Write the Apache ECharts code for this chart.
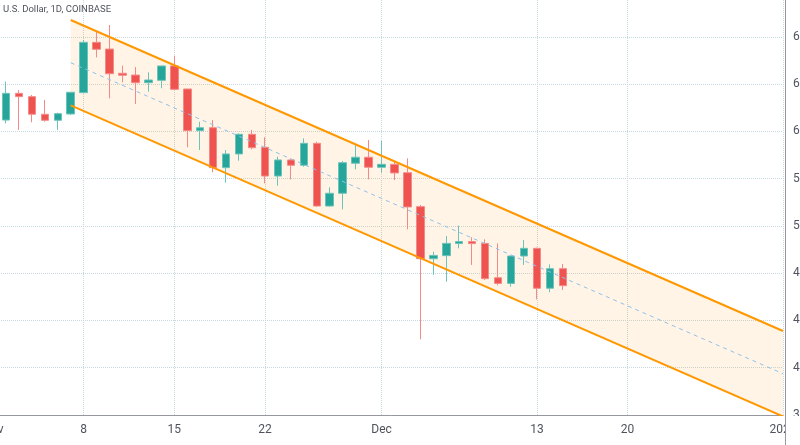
<!DOCTYPE html>
<html>
<head>
<meta charset="utf-8">
<script src="https://cdn.jsdelivr.net/npm/echarts@6/dist/echarts.min.js"></script>
<style>
html,body{margin:0;padding:0;background:#fff;}
#chart{width:800px;height:445px;}
</style>
</head>
<body>
<div id="chart"></div>
<script>
// ---- Data ----
const titleText = 'U.S. Dollar, 1D, COINBASE';

const candleDates = [
  '2021-11-02','2021-11-03','2021-11-04','2021-11-05','2021-11-06','2021-11-07','2021-11-08',
  '2021-11-09','2021-11-10','2021-11-11','2021-11-12','2021-11-13','2021-11-14','2021-11-15',
  '2021-11-16','2021-11-17','2021-11-18','2021-11-19','2021-11-20','2021-11-21','2021-11-22',
  '2021-11-23','2021-11-24','2021-11-25','2021-11-26','2021-11-27','2021-11-28','2021-11-29',
  '2021-11-30','2021-12-01','2021-12-02','2021-12-03','2021-12-04','2021-12-05','2021-12-06',
  '2021-12-07','2021-12-08','2021-12-09','2021-12-10','2021-12-11','2021-12-12','2021-12-13',
  '2021-12-14','2021-12-15'
];
const openValues = [
  60970,63230,62950,61460,60950,61480,63290,
  67550,66980,64930,64780,64130,64330,65550,
  63600,60070,60320,56940,58100,59760,58660,
  56230,57590,57140,59000,53690,54770,57310,
  57820,56970,57220,56510,53640,49230,49490,
  50510,50680,50530,47620,47140,49460,50110,
  46730,48390
];
const closeValues = [
  63230,62950,61460,60950,61510,63320,67550,
  66960,64890,64760,64130,64360,65550,63570,
  60070,60320,56940,58100,59760,58630,56230,
  57590,57140,59000,53690,54770,57360,57820,
  56970,57220,56490,53610,49230,49510,50530,
  50680,50510,47540,47140,49460,50110,46730,
  48390,46950
];
const lowValues = [
  60690,60130,60780,60830,60130,61400,63230,
  66280,62810,64170,62330,63370,63660,63510,
  58660,58430,56550,55670,57530,58490,55610,
  55410,55950,57020,53640,53640,53410,56800,
  55950,56510,55890,51720,42410,47850,47280,
  50110,48700,47430,46970,46860,48700,45790,
  46390,46580
];
const highValues = [
  64220,63510,63090,62670,61590,63340,67750,
  68530,69020,65570,65460,65010,65550,66420,
  63600,60830,60970,58430,59850,60130,59510,
  57870,57700,59420,59140,55280,57500,58920,
  59280,59200,57500,57730,53780,49820,51150,
  52030,51040,50870,50530,49510,50810,50170,
  48750,48780
];

// Parallel channel (drawing) anchor points
const channelDates = ['2021-11-07', '2022-01-01'];
const channelUpper = [69440, 43110];
const channelLower = [62210, 35880];
const channelMid   = [65825, 39495];

// Axis labels
const xTickLabels = {
  '2021-11-01': 'Nov', '2021-11-08': '8', '2021-11-15': '15', '2021-11-22': '22',
  '2021-12-01': 'Dec', '2021-12-13': '13', '2021-12-20': '20', '2022-01-01': '2022'
};
const yMin = 36000, yMax = 71132, yStep = 4000;

// ---- Calendar categories (Nov 1 2021 .. Jan 1 2022) ----
const dates = [];
(function(){
  const d = new Date(Date.UTC(2021, 10, 1));
  const end = Date.UTC(2022, 0, 1);
  while (d.getTime() <= end) {
    dates.push(d.toISOString().slice(0, 10));
    d.setUTCDate(d.getUTCDate() + 1);
  }
})();

const candleData = dates.map(function(dt){
  const k = candleDates.indexOf(dt);
  if (k < 0) return '-';
  return [openValues[k], closeValues[k], lowValues[k], highValues[k]];
});

const FONT = 'Roboto, "Noto Sans", sans-serif';
const gridColor = '#c5d9de';

const chart = echarts.init(document.getElementById('chart'), null, {renderer: 'canvas'});
const i0 = dates.indexOf(channelDates[0]);
const i1 = dates.indexOf(channelDates[1]);

chart.setOption({
  animation: false,
  backgroundColor: '#ffffff',
  grid: {left: -7, right: 17, top: 0, bottom: 30, containLabel: false, outerBoundsMode: 'none'},
  xAxis: {
    type: 'category',
    data: dates,
    boundaryGap: false,
    axisLine: {show: true, lineStyle: {color: '#9598a1', width: 1}},
    axisTick: {show: false},
    axisLabel: {
      interval: function(i, v){ return Object.prototype.hasOwnProperty.call(xTickLabels, v); },
      formatter: function(v){ return xTickLabels[v] || ''; },
      color: '#50535e', fontSize: 12, margin: 9, fontFamily: FONT
    },
    splitLine: {
      show: true,
      interval: function(i, v){ return Object.prototype.hasOwnProperty.call(xTickLabels, v); },
      lineStyle: {type: 'dotted', color: gridColor, width: 1}
    }
  },
  yAxis: {
    type: 'value',
    position: 'right',
    min: yMin, max: yMax, interval: yStep,
    axisLine: {show: false},
    axisTick: {show: false},
    axisLabel: {
      margin: 10, color: '#50535e', fontSize: 12, fontFamily: FONT,
      showMaxLabel: false,
      formatter: function(v){ return (v % yStep === 0) ? String(v) : ''; }
    },
    splitLine: {show: true, showMaxLine: false, lineStyle: {type: 'dotted', color: gridColor, width: 1}}
  },
  series: [
    {
      type: 'custom',
      name: 'channelFill',
      clip: true,
      z: 1,
      silent: true,
      data: [[i0, channelUpper[0]]],
      encode: {x: 0, y: 1},
      renderItem: function(params, api){
        const pts = [
          api.coord([i0, channelUpper[0]]),
          api.coord([i1, channelUpper[1]]),
          api.coord([i1, channelLower[1]]),
          api.coord([i0, channelLower[0]])
        ];
        return {type: 'polygon', shape: {points: pts}, style: {fill: 'rgba(255,152,0,0.1)'}};
      }
    },
    {
      type: 'candlestick',
      name: 'BTCUSD',
      z: 2,
      barWidth: 8,
      data: candleData,
      itemStyle: {
        color: '#26a69a', color0: '#ef5350',
        borderColor: '#6cc3ba', borderColor0: '#f48a88', borderWidth: 1
      }
    },
    {
      type: 'line', name: 'upper', z: 3, symbol: 'none',
      data: [[channelDates[0], channelUpper[0]], [channelDates[1], channelUpper[1]]],
      lineStyle: {color: '#ff9800', width: 2}
    },
    {
      type: 'line', name: 'lower', z: 3, symbol: 'none',
      data: [[channelDates[0], channelLower[0]], [channelDates[1], channelLower[1]]],
      lineStyle: {color: '#ff9800', width: 2}
    },
    {
      type: 'line', name: 'mid', z: 3, symbol: 'none',
      data: [[channelDates[0], channelMid[0]], [channelDates[1], channelMid[1]]],
      lineStyle: {color: '#8fc1ee', width: 1, type: [4, 4]}
    }
  ],
  graphic: [
    {type: 'text', left: 3, top: 5, z: 100,
     style: {text: titleText, fill: '#50535e', font: '9.5px ' + FONT}},
    {type: 'rect', z: 100, shape: {x: 786, y: 416, width: 14, height: 29}, style: {fill: '#ffffff'}},
    {type: 'line', z: 101, shape: {x1: 785.5, y1: 0, x2: 785.5, y2: 445}, style: {stroke: '#9598a1', lineWidth: 1}}
  ]
});
</script>
</body>
</html>
